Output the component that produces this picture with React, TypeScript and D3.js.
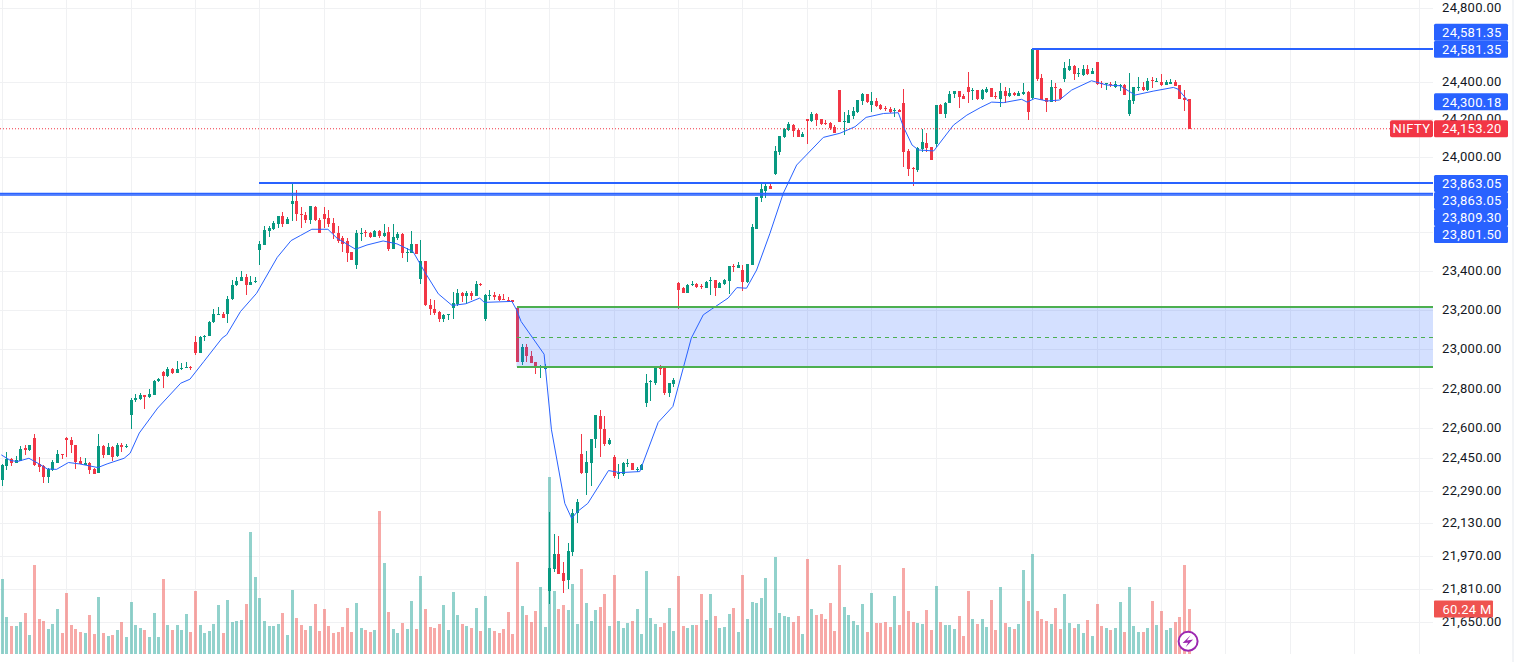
import * as d3 from 'd3';

const opens = [
  22347,22417,22450,22432,22442,22504,22497,22557,22427,22415,
  22364,22399,22434,22475,22556,22546,22520,22440,22424,22430,
  22402,22384,22516,22472,22510,22464,22522,22512,22669,22744,
  22753,22771,22759,22774,22840,22888,22865,22903,22885,22903,
  22908,22913,23039,22985,23065,23073,23143,23179,23184,23181,
  23258,23330,23355,23372,23335,23348,23516,23542,23615,23624,
  23652,23691,23652,23752,23770,23703,23699,23672,23741,23673,
  23703,23682,23654,23605,23574,23563,23502,23436,23601,23607,
  23603,23584,23614,23587,23608,23521,23575,23598,23502,23500,
  23546,23366,23457,23230,23208,23194,23158,23179,23215,23234,
  23292,23278,23292,23278,23338,23160,23278,23282,23277,23261,
  23256,23256,23213,22940,23015,22969,22939,22913,22905,21807,
  21912,21984,21892,21858,21993,22183,22477,22384,22434,22552,
  22667,22602,22526,22462,22375,22375,22429,22432,22397,22397,
  22733,22835,22833,22912,22910,22783,22828,23345,23316,23292,
  23333,23338,23329,23318,23353,23359,23318,23338,23353,23431,
  23420,23410,23348,23436,23624,23787,23824,23850,23912,24029,
  24109,24146,24173,24146,24109,24205,24195,24232,24205,24182,
  24184,24162,24361,24189,24184,24221,24243,24302,24339,24280,
  24302,24280,24264,24258,24250,24255,24291,24035,23946,23934,
  24045,24077,24056,24072,24280,24232,24291,24339,24355,24329,
  24377,24358,24361,24311,24350,24372,24329,24312,24355,24329,
  24345,24329,24339,24350,24318,24581,24426,24318,24296,24377,
  24366,24420,24469,24491,24447,24442,24474,24447,24512,24397,
  24391,24393,24377,24383,24388,24232,24302,24372,24377,24361,
  24415,24404,24404,24388,24393,24404,24388,24318,24312,
];
const highs = [
  22425,22485,22455,22467,22514,22519,22522,22576,22460,22422,
  22405,22447,22497,22476,22559,22562,22521,22460,22455,22437,
  22405,22576,22522,22531,22514,22531,22531,22524,22754,22778,
  22781,22772,22801,22848,22858,22891,22915,22908,22944,22934,
  22939,22920,23071,23071,23077,23147,23208,23220,23196,23275,
  23359,23372,23403,23389,23379,23372,23561,23640,23640,23663,
  23692,23714,23684,23863,23829,23741,23711,23744,23742,23679,
  23739,23724,23680,23640,23587,23575,23503,23619,23631,23619,
  23608,23619,23619,23649,23634,23650,23610,23603,23523,23612,
  23547,23567,23458,23259,23256,23200,23184,23184,23297,23311,
  23297,23302,23302,23352,23342,23287,23306,23297,23284,23284,
  23273,23257,23219,23031,23031,22995,22940,22922,22929,22189,
  22081,22071,21945,22036,22204,22253,22577,22492,22553,22672,
  22698,22667,22557,22472,22427,22437,22452,22433,22414,22425,
  22878,22848,22913,22923,22911,22834,22858,23346,23324,23338,
  23353,23343,23338,23353,23374,23360,23348,23364,23432,23441,
  23452,23436,23442,23651,23793,23865,23865,23860,24061,24115,
  24157,24189,24178,24152,24136,24206,24243,24237,24206,24200,
  24189,24173,24362,24243,24253,24269,24308,24345,24340,24350,
  24318,24285,24275,24269,24264,24258,24366,24045,23950,24056,
  24152,24130,24057,24281,24285,24296,24355,24356,24356,24339,
  24458,24372,24362,24366,24377,24373,24350,24399,24377,24372,
  24350,24355,24399,24355,24590,24590,24447,24319,24415,24399,
  24372,24512,24529,24496,24480,24496,24496,24480,24513,24408,
  24398,24404,24410,24393,24393,24453,24378,24431,24404,24426,
  24431,24426,24447,24415,24420,24415,24389,24361,24313,
];
const lows = [
  22319,22397,22417,22430,22440,22472,22492,22417,22389,22334,
  22334,22394,22430,22452,22460,22480,22404,22427,22422,22379,
  22378,22383,22457,22469,22442,22460,22484,22506,22602,22736,
  22744,22703,22757,22773,22838,22808,22864,22878,22884,22900,
  22906,22898,22976,22984,23046,23072,23135,23176,23164,23135,
  23253,23326,23354,23282,23333,23343,23436,23541,23584,23619,
  23630,23636,23649,23666,23663,23631,23657,23647,23663,23604,
  23628,23636,23572,23549,23504,23453,23462,23415,23563,23584,
  23579,23582,23575,23580,23509,23518,23568,23471,23451,23497,
  23493,23338,23225,23176,23179,23140,23140,23153,23160,23225,
  23246,23234,23253,23277,23329,23148,23256,23254,23251,23253,
  23246,23243,22939,22923,22940,22932,22880,22856,22898,21743,
  21896,21887,21797,21815,21974,22135,22377,22273,22318,22507,
  22462,22517,22522,22357,22352,22367,22412,22396,22387,22395,
  22713,22739,22823,22873,22773,22763,22813,23210,23291,23291,
  23326,23318,23312,23317,23282,23277,23317,23333,23287,23400,
  23419,23302,23343,23435,23623,23766,23787,23833,23907,24013,
  24104,24141,24109,24108,24108,24072,24189,24168,24173,24173,
  24146,24129,24188,24120,24183,24205,24237,24280,24291,24243,
  24269,24253,24248,24237,24216,24242,23948,23902,23849,23923,
  24029,24029,23986,24056,24231,24211,24290,24318,24264,24311,
  24291,24307,24307,24307,24345,24322,24312,24269,24291,24323,
  24329,24328,24334,24200,24307,24410,24306,24243,24295,24296,
  24307,24404,24463,24415,24431,24436,24442,24446,24388,24372,
  24361,24377,24372,24355,24333,24221,24285,24355,24355,24355,
  24372,24403,24383,24387,24392,24382,24311,24248,24152,
];
const closes = [
  22422,22450,22432,22447,22500,22497,22520,22422,22414,22364,
  22402,22437,22477,22469,22544,22519,22437,22429,22432,22399,
  22379,22517,22472,22512,22462,22520,22509,22516,22748,22756,
  22773,22759,22778,22843,22853,22865,22903,22883,22903,22906,
  22912,22910,22983,23066,23073,23143,23183,23184,23165,23259,
  23331,23355,23372,23335,23348,23352,23546,23619,23628,23657,
  23691,23652,23677,23770,23700,23695,23672,23743,23668,23605,
  23677,23650,23603,23560,23547,23500,23464,23603,23605,23601,
  23584,23614,23587,23603,23518,23582,23598,23500,23506,23546,
  23495,23457,23227,23207,23189,23160,23179,23183,23239,23290,
  23275,23292,23277,23338,23330,23282,23282,23272,23256,23258,
  23251,23244,22940,23015,22968,22935,22908,22915,22915,21916,
  21984,21888,21853,21998,22184,22239,22382,22437,22552,22669,
  22599,22526,22547,22367,22380,22432,22432,22397,22402,22422,
  22833,22840,22912,22905,22781,22833,22848,23307,23292,23333,
  23338,23323,23324,23348,23359,23318,23343,23359,23431,23426,
  23436,23348,23441,23635,23792,23834,23850,23834,24035,24114,
  24152,24178,24141,24109,24125,24195,24232,24200,24178,24178,
  24157,24130,24189,24195,24226,24248,24307,24339,24296,24302,
  24275,24258,24258,24243,24253,24243,24029,23939,23943,24050,
  24082,24050,23987,24280,24232,24291,24339,24355,24323,24312,
  24350,24361,24312,24361,24366,24323,24323,24355,24329,24345,
  24334,24345,24350,24243,24581,24420,24307,24296,24377,24372,
  24312,24480,24491,24447,24453,24474,24447,24463,24393,24393,
  24397,24386,24393,24388,24334,24307,24377,24377,24361,24410,
  24410,24410,24388,24404,24404,24383,24312,24307,24153.2,
];
// volume in millions
const volumes = [
  100.4,49.5,37.5,37.5,42.8,54.9,25.4,119.1,46.8,44.2,
  33.5,40.1,60.2,28.1,81.6,38.8,33.5,29.4,28.1,52.2,
  26.8,76.3,28.1,24.1,25.4,32.1,42.8,22.7,69.6,38.8,
  34.8,32.1,22.7,54.9,22.7,100.4,38.8,32.1,38.8,32.1,
  53.5,29.4,84.3,38.8,28.1,30.8,40.1,65.6,28.1,72.3,
  42.8,44.2,45.5,66.9,163.2,103.0,74.9,44.2,37.5,37.5,
  40.1,54.9,25.4,85.6,48.2,38.8,32.1,37.5,66.9,30.8,
  60.2,37.5,28.1,29.4,36.1,61.5,29.4,68.2,34.8,32.1,
  29.4,32.1,191.3,121.8,56.2,33.5,28.1,41.5,33.5,70.9,
  33.5,104.4,60.2,36.1,34.8,40.1,65.6,32.1,83.0,52.2,
  40.1,37.5,34.8,61.5,30.8,77.6,34.8,30.8,28.1,33.5,
  56.2,26.8,123.1,64.2,52.2,42.8,57.5,89.6,36.1,236.8,
  84.3,60.2,65.6,58.9,93.7,40.1,113.7,68.2,44.2,58.9,
  62.9,80.3,37.5,105.7,44.2,34.8,41.5,44.2,60.2,26.8,
  111.1,48.2,40.1,36.1,41.5,61.5,30.8,104.4,37.5,34.8,
  38.8,38.8,80.3,45.5,80.3,50.8,34.8,36.1,53.5,61.5,
  29.4,105.7,46.8,69.6,68.2,74.9,101.7,34.8,129.8,54.9,
  50.8,49.5,42.8,50.8,26.8,127.1,60.2,52.2,53.5,46.8,
  68.2,30.8,119.1,62.9,52.2,44.2,38.8,66.9,29.4,81.6,
  41.5,41.5,42.8,36.1,77.6,38.8,115.1,57.5,42.8,41.5,
  40.1,58.9,32.1,91.0,42.8,38.8,38.8,33.5,50.8,24.1,
  84.3,46.8,40.1,46.8,36.1,72.3,32.1,89.6,41.5,36.1,
  33.5,40.1,112.4,70.9,133.8,57.5,46.8,44.2,40.1,61.5,
  33.5,80.3,41.5,34.8,40.1,28.1,45.5,24.1,66.9,37.5,
  34.8,32.1,34.8,69.6,29.4,89.6,37.5,29.4,29.4,34.8,
  70.9,38.8,57.5,32.1,34.8,42.8,49.5,119.1,60.24,
];

// moving average read at the turning points of the blue line
const maBars = [
  0,2,3.5,6,8,10,12,14.6,17,21,23,26.7,28,30,34,39,41,44,48,49,52,55.5,60,63,65,67.5,71,73,77,79.5,
  83,86,89.5,92,95,98,101,104,105,111,112,113,118,119.6,122.5,124,125.2,127.5,132,134.5,138.8,142.8,
  146,150,152.6,154.4,158,159.9,162,164.2,167.1,170,172.9,175,178.7,182.3,185.6,188,191.8,195,196.1,
  198,199.4,202.7,207,209.9,212.8,215.3,217.8,221.8,223,224.7,227.3,230,232.7,237,240.3,243.2,246.5,
  250.4,254.8,255.8,257.7,258,
];
const maValues = [
  22472,22444,22439,22455,22430,22402,22400,22434,22427,22409,22427,22455,22480,22581,22706,22831,22851,
  22940,23060,23077,23196,23290,23476,23563,23589,23622,23622,23575,23518,23540,23561,23546,23506,23402,
  23287,23227,23236,23265,23243,23248,23205,23145,22978,22597,22232,22158,22191,22232,22394,22384,22389,
  22634,22714,23060,23179,23208,23265,23319,23316,23410,23601,23811,23960,24013,24107,24129,24164,24214,
  24235,24239,24164,24066,24040,24035,24173,24226,24266,24296,24293,24311,24296,24316,24302,24307,24361,
  24411,24388,24384,24334,24355,24375,24366,24311,24300.18,
];

const priceTicks = [24800, 24400, 24200, 24000, 23400, 23200, 23000, 22800, 22600, 22450, 22290, 22130, 21970, 21810, 21650];
const gridPrices = [24800, 24400, 24200, 24000, 23800, 23600, 23400, 23200, 23000, 22800, 22600, 22450, 22290, 22130, 21970, 21810, 21650];
const gridBars = [0, 14, 28, 42, 56, 70, 91, 105, 119, 133, 147, 161, 175, 189, 203, 224, 238, 252, 266, 280, 294, 308];

const lastPrice = 24153.2;
const maLast = 24300.18;
const topLine = 24581.35;
const midLines = [23809.3, 23801.5];
const upperLine = 23863.05;
const zoneTop = 23219;
const zoneBottom = 22913;
const zoneStartBar = 112;
const upperStartBar = 56;
const topStartBar = 224;
const topStack = [24581.35, 24581.35];
const midStack = [23863.05, 23863.05, 23809.3, 23801.5];

const width = 1523;
const height = 662;
const plotRight = 1433;
const volBase = 654;
const labelH = 17;

const green = '#089981';
const red = '#f23645';
const blue = '#2962ff';
const gridColor = '#f0f1f3';
const fontFamily = 'Roboto, sans-serif';
const tracking = 0.25;

const x = d3.scaleLinear().domain([0, 258]).range([1.3, 1188.1]);
const y = d3.scaleLog().domain([21650, 24800]).range([623.3, 9.3]);
const vol = d3.scaleLinear().domain([0, 60.24]).range([volBase, volBase - 45]);
const fmt = d3.format(',.2f');

const maLine = d3
  .line<number>()
  .x((_, i) => x(maBars[i]))
  .y((d) => y(d));

function PriceLabel({ cy, text, fill }: { cy: number; text: string; fill: string }) {
  return (
    <g>
      <rect x={1434} y={cy - labelH / 2} width={74} height={labelH} rx={1.5} fill={fill} />
      <text x={1501.5} y={cy} dy="0.36em" textAnchor="end" fill="#fff" fontSize={13} letterSpacing={tracking}>
        {text}
      </text>
    </g>
  );
}

export default function App() {
  const lastY = y(lastPrice);
  const zoneX = x(zoneStartBar);
  const midY = Math.round(y((zoneTop + zoneBottom) / 2)) + 0.5;
  return (
    <svg
      width={width}
      height={height}
      style={{ position: 'fixed', left: 0, top: 0, background: '#fff' }}
      fontFamily={fontFamily}
    >
      {/* grid */}
      <g shapeRendering="crispEdges" stroke={gridColor}>
        {gridPrices.map((p) => (
          <line key={p} x1={0} x2={plotRight} y1={Math.round(y(p)) - 0.5} y2={Math.round(y(p)) - 0.5} />
        ))}
        {gridBars.map((b) => (
          <line key={b} x1={Math.floor(x(b)) + 1.5} x2={Math.floor(x(b)) + 1.5} y1={0} y2={volBase} />
        ))}
      </g>

      {/* volume */}
      <g shapeRendering="crispEdges">
        {volumes.map((v, i) => (
          <rect
            key={i}
            x={Math.floor(x(i))}
            y={Math.round(vol(v))}
            width={3}
            height={volBase - Math.round(vol(v))}
            fill={closes[i] >= opens[i] ? 'rgba(38,166,154,0.5)' : 'rgba(239,83,80,0.5)'}
          />
        ))}
      </g>

      {/* candles */}
      <g shapeRendering="crispEdges">
        {closes.map((c, i) => {
          const col = c >= opens[i] ? green : red;
          const top = Math.round(y(Math.max(c, opens[i])));
          const bot = Math.round(y(Math.min(c, opens[i])));
          const hi = Math.round(y(highs[i]));
          const lo = Math.round(y(lows[i]));
          const left = Math.floor(x(i));
          return (
            <g key={i} fill={col}>
              <rect x={left + 1} y={hi} width={1} height={Math.max(1, lo - hi)} />
              <rect x={left} y={top} width={3} height={Math.max(1, bot - top)} />
            </g>
          );
        })}
      </g>

      <path d={maLine(maValues) ?? ''} fill="none" stroke={blue} strokeWidth={1} />

      {/* last price */}
      <line x1={0} x2={1390} y1={lastY} y2={lastY} stroke={red} strokeWidth={1} strokeDasharray="1 2" />

      {/* zone */}
      <rect
        x={zoneX}
        y={y(zoneTop)}
        width={plotRight - zoneX}
        height={y(zoneBottom) - y(zoneTop)}
        fill="rgba(41,98,255,0.2)"
      />
      <line x1={zoneX} x2={plotRight} y1={midY} y2={midY} stroke="#4caf50" strokeWidth={1} strokeDasharray="4 4" shapeRendering="crispEdges" />
      {[zoneTop, zoneBottom].map((p) => (
        <line
          key={p}
          x1={zoneX}
          x2={plotRight}
          y1={Math.round(y(p))}
          y2={Math.round(y(p))}
          stroke="#4caf50"
          strokeWidth={2}
          shapeRendering="crispEdges"
        />
      ))}

      {/* drawn levels */}
      <g stroke={blue} shapeRendering="crispEdges">
        <line x1={x(topStartBar)} x2={plotRight} y1={Math.round(y(topLine))} y2={Math.round(y(topLine))} strokeWidth={2} />
        <line x1={x(upperStartBar)} x2={plotRight} y1={Math.round(y(upperLine))} y2={Math.round(y(upperLine))} strokeWidth={2} />
      </g>
      {midLines.map((p) => (
        <line key={p} x1={0} x2={plotRight} y1={y(p)} y2={y(p)} stroke={blue} strokeWidth={1.4} />
      ))}

      {/* price axis */}
      <line x1={1513} x2={1513} y1={0} y2={height} stroke="#eef0f5" strokeWidth={1.5} />
      <g fontSize={13} fill="#131722" letterSpacing={tracking}>
        {priceTicks.map((p) => (
          <text key={p} x={1501.5} y={y(p) - 1.5} dy="0.36em" textAnchor="end">
            {fmt(p)}
          </text>
        ))}
      </g>

      {topStack.map((p, i) => (
        <PriceLabel key={i} cy={y(p) + (i - 1) * labelH} text={fmt(p)} fill={blue} />
      ))}
      <PriceLabel cy={y(maLast) + 0.5} text={fmt(maLast)} fill={blue} />
      {midStack.map((p, i) => (
        <PriceLabel key={i} cy={y(midStack[0]) + i * labelH} text={fmt(p)} fill={blue} />
      ))}

      {/* last price tag */}
      <rect x={1390} y={lastY - labelH / 2} width={43} height={labelH} rx={2} fill={red} />
      <text x={1411.5} y={lastY} dy="0.36em" textAnchor="middle" fill="#fff" fontSize={13} letterSpacing={0.4}>
        NIFTY
      </text>
      <PriceLabel cy={lastY} text={fmt(lastPrice)} fill={red} />

      {/* volume tag */}
      <rect x={1434} y={vol(60.24) - labelH / 2} width={59} height={labelH} rx={1} fill="#ef5350" />
      <text x={1442.5} y={vol(60.24)} dy="0.36em" fill="#fff" fontSize={13} letterSpacing={tracking}>
        60.24 M
      </text>

      {/* bolt badge */}
      <g transform={`translate(${x(258)},641.3)`}>
        <circle r={9.5} fill="#fff" stroke="#9c27b0" strokeWidth={2} />
        <path d="M2.5,-6 L-1.2,-0.8 L5,-1.8 L-2.5,6 L0,1.4 L-5.5,1.8 Z" fill="#9c27b0" />
      </g>
    </svg>
  );
}
